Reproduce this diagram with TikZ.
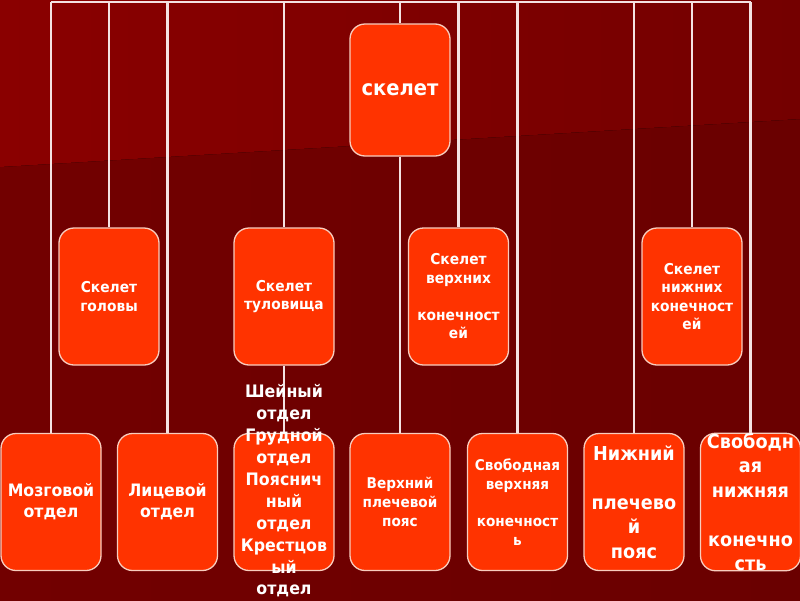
\documentclass[tikz,border=0pt]{standalone}
\usepackage{fontspec}
\setmainfont{DejaVu Sans}[FakeStretch=0.92]
\pgfdeclarelayer{bg}
\pgfsetlayers{bg,main}
\definecolor{boxfill}{HTML}{FF3300}
\definecolor{boxline}{HTML}{F8CDBE}
\definecolor{linecol}{HTML}{F4E2E2}
\definecolor{upL}{HTML}{8A0000}
\definecolor{upR}{HTML}{740000}
\definecolor{loL}{HTML}{720000}
\definecolor{loR}{HTML}{6A0000}
\tikzset{
  box/.style={draw=boxline, line width=1.3pt, fill=boxfill, rounded corners=15pt,
    minimum width=100pt, minimum height=137pt, inner sep=0pt, text=white,
    align=center, font=\bfseries},
  conn/.style={draw=linecol, line width=2.4pt},
  lvA/.style={font=\bfseries\fontsize{15}{18.5}\selectfont},
  lvB/.style={font=\bfseries\fontsize{17.1}{21}\selectfont},
  lvC/.style={font=\bfseries\fontsize{14.8}{18.6}\selectfont},
  lvD/.style={font=\bfseries\fontsize{19.2}{24.4}\selectfont},
  freetext/.style={text=white, align=center, font=\bfseries\fontsize{17.2}{21.9}\selectfont}
}
\begin{document}
\begin{tikzpicture}[x=1pt,y=-1pt]
\useasboundingbox (0,0) rectangle (800,600);
% root
\node[box, minimum height=132pt, font=\bfseries\fontsize{21.2}{24}\selectfont] (root) at (400,90) {скелет};
% level 2
\node[box, lvA] (hd) at (109,296.5) {Скелет\\головы};
\node[box, lvA] (tr) at (284,296.5) {Скелет\\туловища};
\node[box, lvA] (up) at (458.5,296.5) {Скелет\\верхних\\[18.5pt]конечност\\ей};
\node[box, lvA] (lo) at (692,296.5) {Скелет\\нижних\\конечност\\ей};
% level 3
\node[box, lvB] (m1) at (51,502) {Мозговой\\отдел};
\node[box, lvB] (m2) at (167.5,502) {Лицевой\\отдел};
\node[box] (m3) at (284,502) {};
\node[box, lvC] (m4) at (400,502) {Верхний\\плечевой\\пояс};
\node[box, lvC] (m5) at (517.5,502) {Свободная\\верхняя\\[18.6pt]конечност\\ь};
\node[box, lvD] (m6) at (634,502) {Нижний\\[24.4pt]плечево\\й\\пояс};
\node[box, lvD] (m7) at (750.5,502) {Свободн\\ая\\нижняя\\[24.4pt]конечно\\сть};
\node[freetext] (m3t) at (284,491) {Шейный\\отдел\\Грудной\\отдел\\Пояснич\\ный\\отдел\\Крестцов\\ый\\отдел};
% bus
\coordinate (busL) at (51,2);
\coordinate (busR) at (750.5,2);
\begin{pgfonlayer}{bg}
\fill[left color=loL, right color=loR] (0,0) rectangle (800,600);
\fill[left color=upL, right color=upR] (0,0) -- (800,0) -- (800,119) -- (0,167) -- cycle;
\draw[conn] (busL) -- (busR);
\foreach \n in {root,hd,tr,up,lo,m1,m2,m5,m6,m7}
  \draw[conn] (\n.north |- busL) -- (\n.north);
\draw[conn] (root.south) -- (m4.north);
\draw[conn] (tr.south) -- (m3.north);
\end{pgfonlayer}
\end{tikzpicture}
\end{document}
